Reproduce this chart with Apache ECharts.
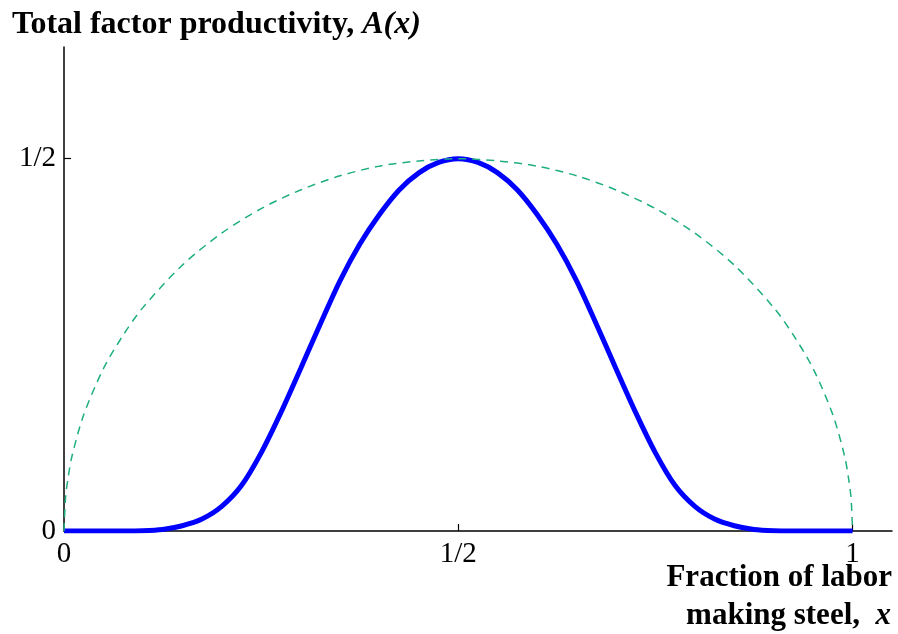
<!DOCTYPE html>
<html>
<head>
<meta charset="utf-8">
<script src="https://cdn.jsdelivr.net/npm/echarts@6/dist/echarts.min.js"></script>
<style>
  html, body { margin: 0; padding: 0; background: #fff; }
  #chart { width: 898px; height: 634px; }
</style>
</head>
<body>
<div id="chart"></div>
<script>
  // values
  var tfpX = [0, 0.025, 0.05, 0.075, 0.1, 0.125, 0.15, 0.175, 0.2, 0.225, 0.25, 0.275, 0.3, 0.325, 0.35, 0.375, 0.4, 0.425, 0.45, 0.475, 0.5,
    0.525, 0.55, 0.575, 0.6, 0.625, 0.65, 0.675, 0.7, 0.725, 0.75, 0.775, 0.8, 0.825, 0.85, 0.875, 0.9, 0.925, 0.95, 0.975, 1]
  var tfpY = [0, 0, 0, 0, 0.0003, 0.002, 0.007, 0.016, 0.033, 0.061, 0.105, 0.159, 0.218, 0.278, 0.336, 0.385, 0.425, 0.458, 0.481, 0.495, 0.5,
    0.495, 0.481, 0.458, 0.425, 0.385, 0.336, 0.278, 0.218, 0.159, 0.105, 0.061, 0.033, 0.016, 0.007, 0.002, 0.0003, 0, 0, 0, 0]
  var envX = [0, 0.002, 0.005, 0.01, 0.025, 0.05, 0.075, 0.1, 0.15, 0.2, 0.25, 0.3, 0.35, 0.4, 0.45, 0.5,
    0.55, 0.6, 0.65, 0.7, 0.75, 0.8, 0.85, 0.9, 0.925, 0.95, 0.975, 0.99, 0.995, 0.998, 1]
  var envY = [0, 0.045, 0.07, 0.1, 0.156, 0.218, 0.263, 0.3, 0.357, 0.4, 0.433, 0.458, 0.477, 0.49, 0.497, 0.5,
    0.497, 0.49, 0.477, 0.458, 0.433, 0.4, 0.357, 0.3, 0.263, 0.218, 0.156, 0.1, 0.07, 0.045, 0]
  var xTicks = [0, 0.5, 1]
  var xTickLabels = ['0', '1/2', '1']
  var yTicks = [0, 0.5]
  var yTickLabels = ['0', '1/2']

  function pairs(xs, ys) {
    return xs.map(function (x, i) { return [x, ys[i]] })
  }

  var serif = 'Liberation Serif'
  var boldRich = {
    n: { fontFamily: serif, fontWeight: 'bold', fontSize: 31, color: '#000' },
    i: { fontFamily: serif, fontWeight: 'bold', fontStyle: 'italic', fontSize: 31, color: '#000' }
  }
  var chart = echarts.init(document.getElementById('chart'))
  chart.setOption({
    animation: false,
    title: {
      left: 7,
      top: 4,
      text: '{b|Total factor productivity, }{i|A(x)}',
      textStyle: {
        rich: {
          b: { fontFamily: serif, fontWeight: 'bold', fontSize: 32, color: '#000' },
          i: { fontFamily: serif, fontWeight: 'bold', fontStyle: 'italic', fontSize: 32, color: '#000' }
        }
      }
    },
    // x axis name, two right aligned lines under the axis end
    graphic: [{
      type: 'text',
      right: 6,
      top: 562,
      style: { text: '{n|Fraction of labor}', rich: boldRich }
    }, {
      type: 'text',
      right: 7,
      top: 600,
      style: { text: '{n|making steel,  }{i|x}', rich: boldRich }
    }],
    grid: {
      left: 64,
      right: 6,
      top: 47,
      bottom: 103,
      outerBoundsMode: 'none'
    },
    xAxis: {
      type: 'value',
      min: 0,
      max: 1.05,
      splitLine: { show: false },
      axisLine: { lineStyle: { color: '#000', width: 1.5 } },
      axisTick: { inside: true, length: 7, customValues: [0.5, 1], lineStyle: { color: '#000', width: 1.2 } },
      axisLabel: {
        customValues: xTicks,
        formatter: function (v) { return xTickLabels[xTicks.indexOf(v)] },
        fontFamily: serif,
        fontSize: 29,
        color: '#000',
        margin: 9
      }
    },
    yAxis: {
      type: 'value',
      min: 0,
      max: 0.65,
      splitLine: { show: false },
      axisLine: { lineStyle: { color: '#000', width: 1.5 } },
      axisTick: { inside: true, length: 7, customValues: [0.5], lineStyle: { color: '#000', width: 1.2 } },
      axisLabel: {
        customValues: yTicks,
        formatter: function (v) { return yTickLabels[yTicks.indexOf(v)] },
        fontFamily: serif,
        fontSize: 29,
        color: '#000',
        margin: 8
      }
    },
    series: [
      {
        type: 'line',
        data: pairs(tfpX, tfpY),
        smooth: 0.3,
        showSymbol: false,
        lineStyle: { color: '#0000ff', width: 5 },
        z: 2
      },
      {
        type: 'line',
        data: pairs(envX, envY),
        smooth: 0.3,
        showSymbol: false,
        lineStyle: { color: '#1fae82', width: 1.5, type: [8, 6] },
        z: 3
      }
    ]
  })
</script>
</body>
</html>
